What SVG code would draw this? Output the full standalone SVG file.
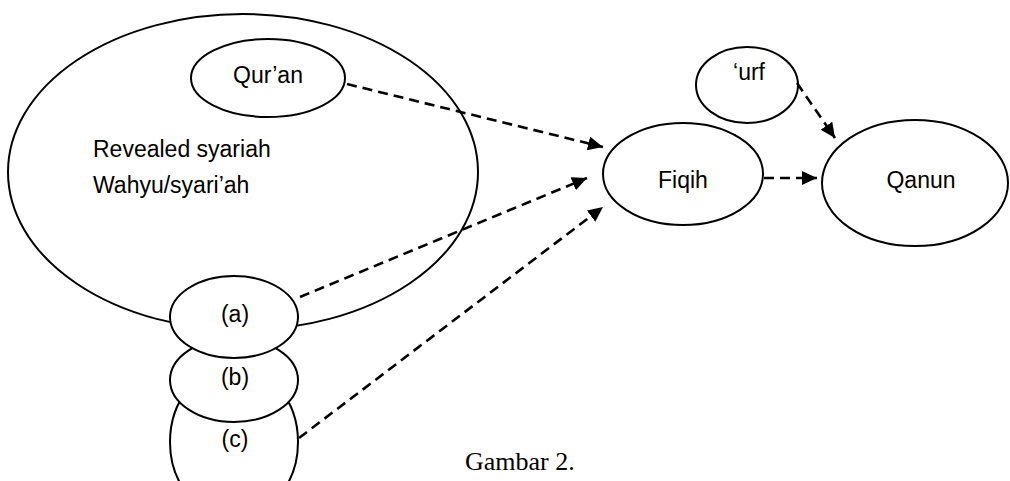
<svg xmlns="http://www.w3.org/2000/svg" width="1010" height="481" viewBox="0 0 1010 481">
<style>
.node{fill:#fff;stroke:#000;stroke-width:2}
.lbl{font-family:"Liberation Sans",Arial,sans-serif;font-size:23px;fill:#000}
.mid{text-anchor:middle}
.cap{font-family:"Liberation Serif","Times New Roman",serif;font-size:26px;fill:#000}
.conn{fill:none;stroke:#000;stroke-width:2.6;stroke-dasharray:10 6}
</style>
<defs>
<marker id="arr" markerUnits="userSpaceOnUse" markerWidth="18" markerHeight="16" refX="15" refY="7" orient="auto">
<path d="M0,0 L15,7 L0,14 z" fill="#000"/>
</marker>
</defs>
<rect width="1010" height="481" fill="#fff"/>
<g id="revealed">
<ellipse class="node" cx="243" cy="172" rx="235" ry="158"/>
<text class="lbl" x="93" y="157">Revealed syariah</text>
<text class="lbl" x="93" y="193">Wahyu/syari’ah</text>
</g>
<g id="quran">
<ellipse class="node" cx="268" cy="78" rx="77" ry="39"/>
<text class="lbl mid" x="268" y="83">Qur’an</text>
</g>
<g id="c">
<ellipse class="node" cx="234" cy="442" rx="64" ry="76"/>
<text class="lbl mid" x="235" y="447">(c)</text>
</g>
<g id="b">
<ellipse class="node" cx="234" cy="380" rx="64" ry="42"/>
<text class="lbl mid" x="235" y="385">(b)</text>
</g>
<g id="a">
<ellipse class="node" cx="234" cy="317" rx="64" ry="41"/>
<text class="lbl mid" x="235" y="322">(a)</text>
</g>
<g id="urf">
<ellipse class="node" cx="747" cy="85" rx="51" ry="38"/>
<text class="lbl mid" x="749" y="80">‘urf</text>
</g>
<g id="fiqih">
<ellipse class="node" cx="683" cy="174" rx="80" ry="51"/>
<text class="lbl mid" x="683" y="188">Fiqih</text>
</g>
<g id="qanun">
<ellipse class="node" cx="915" cy="183" rx="93" ry="63"/>
<text class="lbl mid" x="921" y="188">Qanun</text>
</g>
<g id="connectors">
<line class="conn" x1="347" y1="84" x2="603" y2="147" marker-end="url(#arr)"/>
<line class="conn" x1="300" y1="297" x2="587" y2="178" marker-end="url(#arr)"/>
<line class="conn" x1="299" y1="438" x2="603" y2="207" marker-end="url(#arr)"/>
<line class="conn" x1="764" y1="178" x2="817" y2="178" marker-end="url(#arr)"/>
<line class="conn" x1="797" y1="83" x2="835" y2="138" marker-end="url(#arr)"/>
</g>
<text class="cap" x="465" y="470">Gambar 2.</text>
</svg>
